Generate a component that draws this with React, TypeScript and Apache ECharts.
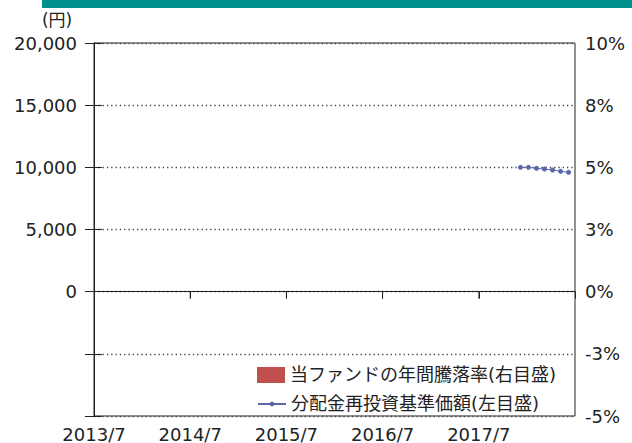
import React, { useEffect, useRef } from "react";
import * as echarts from "echarts";

// x positions are months counted from 2013/7
const xTickValues = [0, 12, 24, 36, 48, 60];
const xTickLabels = ["2013/7", "2014/7", "2015/7", "2016/7", "2017/7", ""];
const leftTickLabels = ["", "", "0", "5,000", "10,000", "15,000", "20,000"];
const rightTickLabels = ["-5%", "-3%", "0%", "3%", "5%", "8%", "10%"];

const navDates = ["2017/12/07", "2018/01/07", "2018/02/07", "2018/03/07", "2018/04/07", "2018/05/07", "2018/06/07"];
const navValues = [10000, 10000, 9920, 9865, 9785, 9680, 9600];
const annualReturns: number[] = [];

const seriesBarName = "当ファンドの年間騰落率(右目盛)";
const seriesLineName = "分配金再投資基準価額(左目盛)";

function monthIndex(d: string): number {
  const [y, m, day] = d.split("/").map(Number);
  return (y - 2013) * 12 + (m - 7) + (day - 1) / 30;
}

const FONT = "'DejaVu Sans', 'Noto Sans CJK JP', sans-serif";
const AX = "#222";
const GRID_TOP = 43;
const GRID_BOTTOM = 27;
const LEFT_MIN = -10000;
const LEFT_MAX = 20000;

export default function App() {
  const ref = useRef<HTMLDivElement>(null);
  useEffect(() => {
    document.body.style.margin = "0";
    const chart = echarts.init(ref.current!, undefined, { renderer: "svg" });
    const lineData = navDates.map((d, i) => [monthIndex(d), navValues[i]]);
    const zeroTicks = xTickValues.slice(1, -1).map((v) => [v, 0]);
    chart.setOption({
      animation: false,
      backgroundColor: "#fff",
      textStyle: { fontFamily: FONT },
      graphic: [
        { type: "rect", shape: { x: 42, y: 0, width: 590, height: 8 }, style: { fill: "#00918e" } },
        { type: "text", x: 57, y: 20, style: { text: "(円)", font: `17px ${FONT}`, fill: "#222", align: "center", verticalAlign: "middle" } },
      ],
      grid: { left: 94, right: 57, top: GRID_TOP, bottom: GRID_BOTTOM, show: true, borderColor: AX, borderWidth: 1, backgroundColor: "transparent" },
      legend: [
        {
          data: [{ name: seriesBarName, icon: "rect" }],
          orient: "vertical",
          left: 257,
          top: 366,
          padding: 0,
          itemWidth: 28,
          itemHeight: 16,
          textStyle: { fontSize: 18, color: "#222", fontFamily: FONT },
          selectedMode: false,
        },
        {
          data: [{ name: seriesLineName }],
          orient: "vertical",
          left: 257,
          top: 395,
          padding: 0,
          itemWidth: 28,
          itemHeight: 6,
          textStyle: { fontSize: 18, color: "#222", fontFamily: FONT },
          selectedMode: false,
        },
      ],
      xAxis: [
        {
          type: "value",
          min: 0,
          max: 60,
          interval: 12,
          position: "bottom",
          axisLine: { show: true, onZero: true, lineStyle: { color: AX, width: 1 } },
          axisTick: { show: true, length: 7, lineStyle: { color: AX, width: 1 } },
          axisLabel: { show: false },
          splitLine: { show: false },
        },
        {
          type: "value",
          min: 0,
          max: 60,
          interval: 12,
          position: "bottom",
          axisLine: { show: false, onZero: false },
          axisTick: { show: false },
          axisLabel: {
            show: true,
            margin: 11,
            fontSize: 18,
            lineHeight: 14,
            color: "#222",
            fontFamily: FONT,
            formatter: (v: number) => xTickLabels[xTickValues.indexOf(Math.round(v))] ?? "",
          },
          splitLine: { show: false },
        },
      ],
      yAxis: [
        {
          type: "value",
          min: LEFT_MIN,
          max: LEFT_MAX,
          interval: 5000,
          position: "left",
          axisLine: { show: true, lineStyle: { color: AX } },
          axisTick: { show: true, length: 9, lineStyle: { color: AX } },
          axisLabel: {
            margin: 17,
            fontSize: 18,
            color: "#222",
            fontFamily: FONT,
            formatter: (v: number) => leftTickLabels[Math.round((v - LEFT_MIN) / 5000)] ?? "",
          },
          splitLine: { show: true, lineStyle: { color: "#444", type: [1.3, 3], width: 1.3 } },
        },
        {
          type: "value",
          min: -5,
          max: 10,
          interval: 2.5,
          position: "right",
          axisLine: { show: true, lineStyle: { color: AX } },
          axisTick: { show: true, length: 8, lineStyle: { color: AX } },
          axisLabel: {
            margin: 10,
            fontSize: 18,
            color: "#222",
            fontFamily: FONT,
            formatter: (v: number) => rightTickLabels[Math.round((v + 5) / 2.5)] ?? "",
          },
          splitLine: { show: false },
        },
      ],
      series: [
        {
          name: seriesBarName,
          type: "bar",
          xAxisIndex: 1,
          yAxisIndex: 1,
          data: annualReturns,
          itemStyle: { color: "#c0504d" },
        },
        {
          name: "zeroTicks",
          type: "scatter",
          xAxisIndex: 1,
          yAxisIndex: 0,
          data: zeroTicks,
          symbol: "rect",
          symbolSize: [1, 7],
          symbolOffset: [0, "50%"],
          itemStyle: { color: AX },
          silent: true,
          z: 4,
        },
        {
          name: seriesLineName,
          type: "line",
          xAxisIndex: 1,
          yAxisIndex: 0,
          data: lineData,
          symbol: "circle",
          symbolSize: 5,
          showSymbol: true,
          lineStyle: { color: "#5a68aa", width: 1 },
          itemStyle: { color: "#5a68aa" },
          z: 5,
        },
      ],
    });
    return () => chart.dispose();
  }, []);
  return <div ref={ref} style={{ width: 632, height: 443, position: "absolute", left: 0, top: 0 }} />;
}
